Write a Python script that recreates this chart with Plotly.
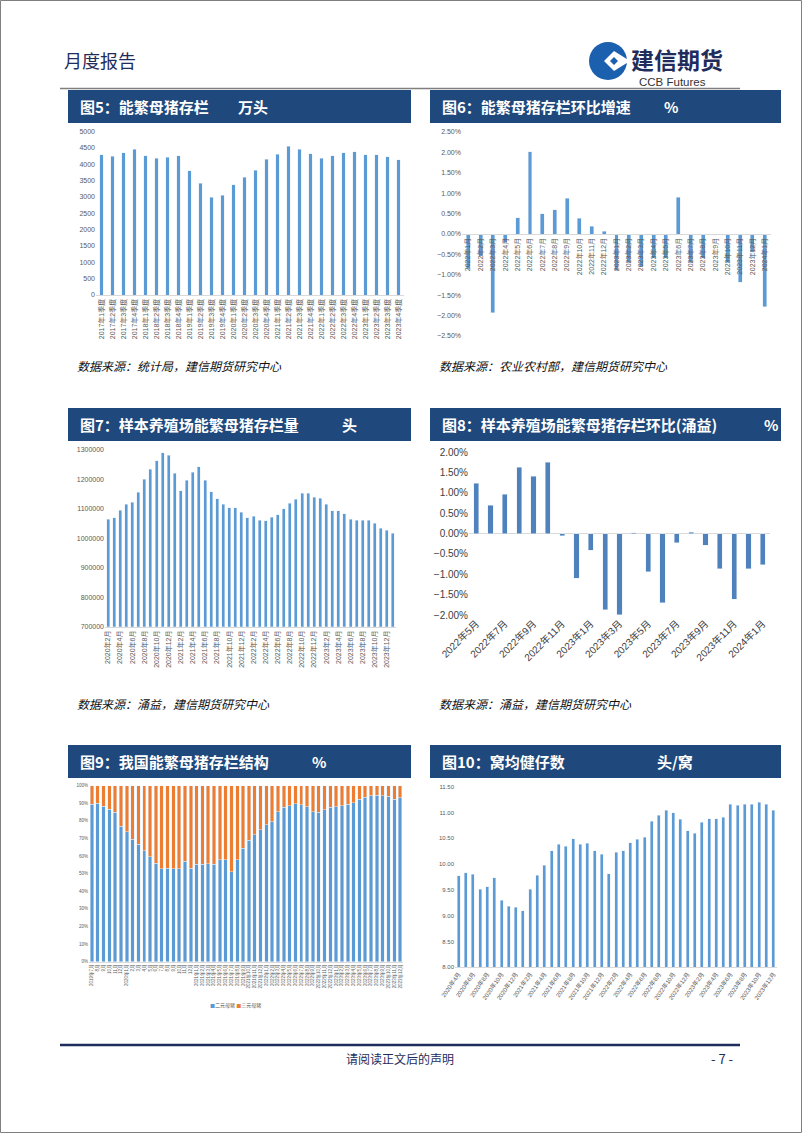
import plotly.graph_objects as go

W, H = 802, 1133


def X(p):
    return p / W


def Y(p):
    return 1 - p / H


def months(y0, m0, n):
    out = []
    y, m = y0, m0
    for _ in range(n):
        out.append(f"{y}年{m}月")
        m += 1
        if m > 12:
            m = 1
            y += 1
    return out


# ---------------- data ----------------
# 图5 能繁母猪存栏（万头），季度
c5_labels = [f"{y}年{q}季度" for y in range(2017, 2024) for q in range(1, 5)]
c5_values = [4300, 4250, 4350, 4460, 4260, 4180, 4220, 4260, 3800, 3420,
             2990, 3060, 3370, 3610, 3820, 4160, 4310, 4560, 4460, 4330,
             4180, 4270, 4350, 4390, 4300, 4300, 4240, 4140]

# 图6 能繁母猪存栏环比增速（%）
c6_labels = months(2022, 1, 25)
c6_values = [-0.85, -0.55, -1.93, -0.2, 0.4, 2.02, 0.5, 0.6, 0.88, 0.39,
             0.19, 0.07, -0.9, -0.7, -0.8, -0.6, -0.6, 0.9, -0.7, -0.6,
             -0.03, -0.7, -1.18, -0.45, -1.78]

# 图7 样本养殖场能繁母猪存栏量（头）
c7_labels = months(2020, 2, 48)
c7_values = [1065000, 1070000, 1096000, 1115000, 1122000, 1156000, 1200000,
             1234000, 1264000, 1291000, 1282000, 1221000, 1162000, 1198000,
             1224000, 1243000, 1198000, 1158000, 1135000, 1115000, 1104000,
             1104000, 1088000, 1070000, 1075000, 1062000, 1060000, 1072000,
             1080000, 1100000, 1120000, 1132000, 1154000, 1154000, 1140000,
             1136000, 1115000, 1094000, 1094000, 1084000, 1065000, 1062000,
             1062000, 1061000, 1052000, 1035000, 1027000, 1017000]

# 图8 样本养殖场能繁母猪存栏环比（涌益，%）
c8_labels = months(2022, 5, 21)
c8_values = [1.23, 0.69, 0.96, 1.62, 1.41, 1.75, -0.06, -1.10, -0.41, -1.87,
             -1.99, 0.02, -0.94, -1.70, -0.23, 0.03, -0.29, -0.87, -1.61,
             -0.87, -0.77]

# 图9 我国能繁母猪存栏结构（%）
c9_labels = months(2019, 7, 54)
c9_binary = [89.6, 90.0, 88.4, 86.7, 84.8, 77.0, 73.9, 69.5, 66.7, 63.0,
             59.7, 55.9, 52.7, 53.2, 52.8, 52.7, 57.0, 53.0, 55.3, 55.3,
             55.7, 55.3, 57.8, 57.8, 51.1, 58.0, 64.4, 69.0, 72.0, 75.0,
             77.7, 79.5, 85.2, 87.7, 88.6, 89.8, 89.2, 88.0, 85.2, 85.0,
             86.4, 87.9, 88.0, 88.6, 89.4, 90.3, 92.4, 93.4, 94.3, 94.7,
             94.3, 94.1, 92.4, 93.2]
c9_ternary = [10.4, 10.0, 11.6, 13.3, 15.2, 23.0, 26.1, 30.5, 33.3, 37.0,
              40.3, 44.1, 47.3, 46.8, 47.2, 47.3, 43.0, 47.0, 44.7, 44.7,
              44.3, 44.7, 42.2, 42.2, 48.9, 42.0, 35.6, 31.0, 28.0, 25.0,
              22.3, 20.5, 14.8, 12.3, 11.4, 10.2, 10.8, 12.0, 14.8, 15.0,
              13.6, 12.1, 12.0, 11.4, 10.6, 9.7, 7.6, 6.6, 5.7, 5.3,
              5.7, 5.9, 7.6, 6.8]
c9_names = ["二元母猪", "三元母猪"]

# 图10 窝均健仔数（头/窝）
c10_labels = months(2020, 4, 45)
c10_values = [9.77, 9.83, 9.80, 9.51, 9.56, 9.74, 9.30, 9.18, 9.16, 9.10,
              9.51, 9.78, 9.98, 10.26, 10.38, 10.35, 10.49, 10.38, 10.40,
              10.26, 10.19, 9.81, 10.23, 10.26, 10.41, 10.48, 10.52, 10.83,
              10.95, 11.04, 11.00, 10.87, 10.65, 10.60, 10.81, 10.88, 10.88,
              10.91, 11.16, 11.14, 11.16, 11.16, 11.20, 11.16, 11.04]

# ---------------- styles ----------------
BLUE = "#5B9BD5"
BLUE8 = "#4F81BD"
ORANGE = "#ED7D31"
NAVY = "#1F497D"
TICK = "#595959"
AXIS = "#D9D9D9"
FONT = "Liberation Sans, Noto Sans CJK SC, sans-serif"
CJK = "Noto Sans CJK SC, sans-serif"

fig = go.Figure()

fig.add_trace(go.Bar(x=c5_labels, y=c5_values, marker_color=BLUE, width=0.36,
                     xaxis="x", yaxis="y", showlegend=False))
fig.add_trace(go.Bar(x=c6_labels, y=c6_values, marker_color=BLUE, width=0.32,
                     xaxis="x2", yaxis="y2", showlegend=False))
fig.add_trace(go.Bar(x=c7_labels, y=c7_values, marker_color=BLUE, width=0.5,
                     xaxis="x3", yaxis="y3", showlegend=False))
fig.add_trace(go.Bar(x=c8_labels, y=c8_values, marker_color=BLUE8, width=0.35,
                     xaxis="x4", yaxis="y4", showlegend=False))
fig.add_trace(go.Bar(x=c9_labels, y=c9_binary, marker_color=BLUE, width=0.6,
                     name=c9_names[0], xaxis="x5", yaxis="y5", showlegend=False))
fig.add_trace(go.Bar(x=c9_labels, y=c9_ternary, marker_color=ORANGE, width=0.6,
                     name=c9_names[1], xaxis="x5", yaxis="y5", showlegend=False))
fig.add_trace(go.Bar(x=c10_labels, y=c10_values, marker_color=BLUE, width=0.42,
                     xaxis="x6", yaxis="y6", showlegend=False))


def xax(dom, anchor, size, **kw):
    d = dict(domain=[X(dom[0]), X(dom[1])], anchor=anchor, type="category",
             tickfont=dict(size=size, color=TICK, family=FONT),
             showgrid=False, zeroline=False, ticks="", showline=True,
             linecolor=AXIS, linewidth=1, fixedrange=True, automargin=False)
    d.update(kw)
    return d


def yax(dom, anchor, rng, size, **kw):
    d = dict(domain=[Y(dom[0]), Y(dom[1])], anchor=anchor, range=rng,
             tickfont=dict(size=size, color=TICK, family=FONT),
             showgrid=False, zeroline=False, ticks="", showline=False,
             fixedrange=True, automargin=False)
    d.update(kw)
    return d


# tick text for chart 9 (mixed long / short labels)
c9_ticktext = []
for i, lab in enumerate(c9_labels):
    yr = lab.split("年")[0]
    if i == 0 or lab.endswith("年1月") or int(yr) >= 2021:
        c9_ticktext.append(lab)
    else:
        c9_ticktext.append(lab.split("年")[1])

fig.update_layout(
    width=W, height=H, autosize=False,
    margin=dict(l=0, r=0, t=0, b=0, pad=0, autoexpand=False),
    paper_bgcolor="white", plot_bgcolor="white",
    barmode="stack",
    font=dict(family=FONT),
    showlegend=False,
    hovermode=False,
    xaxis=xax((96, 404), "y", 7, tickangle=-90),
    yaxis=yax((295, 131.7), "x", [0, 5000], 7, dtick=500),
    xaxis2=xax((462, 771), "free", 7, tickangle=-90, position=Y(234)),
    yaxis2=yax((336, 132), "x2", [-2.5, 2.5], 7, dtick=0.5,
               tickformat=".2f", ticksuffix="%"),
    xaxis3=xax((105, 396), "y3", 7, tickangle=-90,
               tickvals=c7_labels[0::2], ticktext=c7_labels[0::2]),
    yaxis3=yax((626.7, 450), "x3", [700000, 1300000], 7, dtick=100000,
               tickformat="d"),
    xaxis4=xax((469, 770), "y4", 10, tickangle=-45, showline=False,
               tickvals=c8_labels[0::2], ticktext=c8_labels[0::2],
               tickfont=dict(size=10, color="#404040", family=FONT)),
    yaxis4=yax((615, 452), "x4", [-2.0, 2.0], 10, dtick=0.5,
               tickformat=".2f", ticksuffix="%", zeroline=True,
               zerolinecolor=AXIS, zerolinewidth=1,
               tickfont=dict(size=10, color="#404040", family=FONT)),
    xaxis5=xax((89, 403), "y5", 4.5, tickangle=-90,
               tickvals=c9_labels, ticktext=c9_ticktext),
    yaxis5=yax((961.7, 785.7), "x5", [0, 100], 4.5, dtick=10,
               ticksuffix="%"),
    xaxis6=xax((455, 777), "y6", 6, tickangle=-55,
               tickvals=c10_labels[0::2], ticktext=c10_labels[0::2]),
    yaxis6=yax((967.3, 786.7), "x6", [8, 11.5], 6, dtick=0.5,
               tickformat=".2f"),
)

shapes = []
annotations = []

# page border
shapes.append(dict(type="rect", xref="paper", yref="paper",
                   x0=X(0.5), x1=X(W - 0.5), y0=Y(H - 0.5), y1=Y(0.5),
                   line=dict(color="#7F7F7F", width=1), fillcolor="rgba(0,0,0,0)"))

# header
annotations.append(dict(text="月度报告", x=X(62), y=Y(60), xref="paper", yref="paper",
                        xanchor="left", yanchor="middle", showarrow=False,
                        font=dict(size=18, color="#1F2D5C", family=CJK)))
shapes.append(dict(type="line", xref="paper", yref="paper",
                   x0=X(60), x1=X(740), y0=Y(88.5), y1=Y(88.5),
                   line=dict(color="#7F7F7F", width=1.5)))

# logo
cx, cy, r = 608, 61, 19
shapes.append(dict(type="circle", xref="paper", yref="paper",
                   x0=X(cx - r), x1=X(cx + r), y0=Y(cy + r), y1=Y(cy - r),
                   fillcolor="#1B5FAF", line=dict(width=0)))
dx, dd = 614, 10
shapes.append(dict(type="path", xref="paper", yref="paper",
                   path=f"M {X(dx - dd)},{Y(cy)} L {X(dx)},{Y(cy - dd)} "
                        f"L {X(dx + dd + 6)},{Y(cy)} L {X(dx)},{Y(cy + dd)} Z",
                   fillcolor="white", line=dict(width=0)))
shapes.append(dict(type="path", xref="paper", yref="paper",
                   path=f"M {X(dx - 4)},{Y(cy)} L {X(dx)},{Y(cy - 4)} "
                        f"L {X(dx + 4)},{Y(cy)} L {X(dx)},{Y(cy + 4)} Z",
                   fillcolor="#1B5FAF", line=dict(width=0)))
annotations.append(dict(text="<b>建信期货</b>", x=X(629), y=Y(59), xref="paper", yref="paper",
                        xanchor="left", yanchor="middle", showarrow=False,
                        font=dict(size=23, color="#1F2D5C", family=CJK)))
annotations.append(dict(text="CCB Futures", x=X(637), y=Y(82.5), xref="paper", yref="paper",
                        xanchor="left", yanchor="middle", showarrow=False,
                        font=dict(size=11.5, color="#333333", family="Liberation Sans, Arial")))

# title boxes
boxes = [
    ((68, 411), (90, 123), "图5：能繁母猪存栏", "万头", 236),
    ((430, 781), (90, 123), "图6：能繁母猪存栏环比增速", "%", 662),
    ((68, 411), (408, 441), "图7：样本养殖场能繁母猪存栏量", "头", 340),
    ((430, 781), (408, 441), "图8：样本养殖场能繁母猪存栏环比(涌益)", "%", 762),
    ((68, 411), (745, 778), "图9：我国能繁母猪存栏结构", "%", 310),
    ((430, 781), (745, 778), "图10：窝均健仔数", "头/窝", 655),
]
for (bx, by, t, unit, ux) in boxes:
    shapes.append(dict(type="rect", xref="paper", yref="paper",
                       x0=X(bx[0]), x1=X(bx[1]), y0=Y(by[1]), y1=Y(by[0]),
                       fillcolor=NAVY, line=dict(width=0)))
    ymid = Y((by[0] + by[1]) / 2)
    annotations.append(dict(text=f"<b>{t}</b>", x=X(bx[0] + 10), y=ymid,
                            xref="paper", yref="paper", xanchor="left",
                            yanchor="middle", showarrow=False,
                            font=dict(size=15, color="white", family=CJK)))
    annotations.append(dict(text=f"<b>{unit}</b>", x=X(ux), y=ymid,
                            xref="paper", yref="paper", xanchor="left",
                            yanchor="middle", showarrow=False,
                            font=dict(size=15, color="white", family=CJK)))

# sources
sources = [
    (75, 365, "数据来源：统计局，建信期货研究中心"),
    (437, 365, "数据来源：农业农村部，建信期货研究中心"),
    (75, 703, "数据来源：涌益，建信期货研究中心"),
    (437, 703, "数据来源：涌益，建信期货研究中心"),
]
for sx, sy, st in sources:
    annotations.append(dict(text=st, x=X(sx), y=Y(sy), xref="paper", yref="paper",
                            xanchor="left", yanchor="middle", showarrow=False,
                            font=dict(size=12, color="#111111", family=CJK,
                                      style="italic")))

# chart 9 legend
annotations.append(dict(
    text=f'<span style="color:{BLUE}">■</span>{c9_names[0]} '
         f'<span style="color:{ORANGE}">■</span>{c9_names[1]}',
    x=X(235), y=Y(1005), xref="paper", yref="paper", xanchor="center",
    yanchor="middle", showarrow=False, font=dict(size=5, color=TICK, family=CJK)))

# footer
shapes.append(dict(type="line", xref="paper", yref="paper",
                   x0=X(60), x1=X(740), y0=Y(1045), y1=Y(1045),
                   line=dict(color="#1F2D5C", width=2.5)))
annotations.append(dict(text="请阅读正文后的声明", x=X(400), y=Y(1058), xref="paper", yref="paper",
                        xanchor="center", yanchor="middle", showarrow=False,
                        font=dict(size=12, color="#1F2D5C", family=CJK)))
annotations.append(dict(text="- 7 -", x=X(722), y=Y(1058), xref="paper", yref="paper",
                        xanchor="center", yanchor="middle", showarrow=False,
                        font=dict(size=13, color="#1F2D5C", family=CJK)))

fig.update_layout(shapes=shapes, annotations=annotations)

fig.write_html("out.html",
               config={"displayModeBar": False, "staticPlot": True},
               post_script="document.body.style.margin='0';"
                           "document.body.style.overflow='hidden';")
